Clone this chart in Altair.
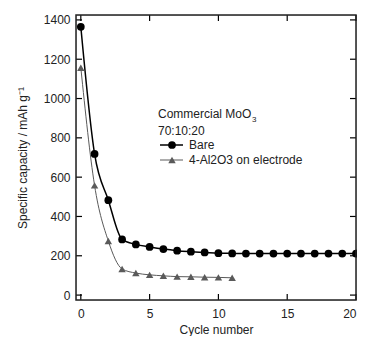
import altair as alt
import pandas as pd

cycles_bare = list(range(21))
bare = [1365, 718, 483, 283, 258, 245, 234, 226, 221, 217, 213, 212, 211, 211, 211, 211, 211, 211, 211, 211, 211]
cycles_al = list(range(12))
al2o3 = [1157, 558, 275, 133, 112, 103, 98, 94, 93, 91, 90, 88]
x_ticks = [0, 5, 10, 15, 20]
y_ticks = [0, 200, 400, 600, 800, 1000, 1200, 1400]

W, H = 280, 285
FONT = "Liberation Sans"
GRAY = "#5a5a5a"

df_b = pd.DataFrame({"cycle": cycles_bare, "cap": bare})
df_a = pd.DataFrame({"cycle": cycles_al, "cap": al2o3})
df_xt = pd.DataFrame({"t": x_ticks})
df_yt = pd.DataFrame({"t": y_ticks})

xs = alt.Scale(domain=[-0.35, 20], nice=False, zero=False)
ys = alt.Scale(domain=[-25, 1425], nice=False, zero=False)

xaxis = alt.Axis(values=x_ticks, tickSize=0, domain=False, grid=False, labelPadding=8, format="d",
                 title="Cycle number", titlePadding=5, labelFontSize=12, titleFontSize=12,
                 labelFont=FONT, titleFont=FONT, titleFontWeight="normal", labelColor="#222", titleColor="#222")
yaxis = alt.Axis(values=y_ticks, tickSize=0, domain=False, grid=False, labelPadding=6, format="d",
                 title="Specific capacity / mAh g\u207b\u00b9", titlePadding=14, labelFontSize=12, titleFontSize=12,
                 labelFont=FONT, titleFont=FONT, titleFontWeight="normal", labelColor="#222", titleColor="#222")

X = alt.X("cycle:Q", scale=xs, axis=xaxis)
Y = alt.Y("cap:Q", scale=ys, axis=yaxis)

line_b = alt.Chart(df_b).mark_line(interpolate="monotone", color="black", strokeWidth=1.5).encode(x=X, y=Y)
pts_b = alt.Chart(df_b).mark_point(shape="circle", filled=True, size=60, color="black", opacity=1).encode(x=X, y=Y)
line_a = alt.Chart(df_a).mark_line(interpolate="monotone", color=GRAY, strokeWidth=1).encode(x=X, y=Y)
pts_a = alt.Chart(df_a).mark_point(shape="triangle-up", filled=True, size=55, color=GRAY, opacity=1).encode(x=X, y=Y)

tx = alt.X("t:Q", scale=xs)
ty = alt.Y("t:Q", scale=ys)
tick_b = alt.Chart(df_xt).mark_rule(color="black", strokeWidth=1.2).encode(x=tx, y=alt.value(H), y2=alt.value(H - 6))
tick_t = alt.Chart(df_xt).mark_rule(color="black", strokeWidth=1.2).encode(x=tx, y=alt.value(0), y2=alt.value(6))
tick_l = alt.Chart(df_yt).mark_rule(color="black", strokeWidth=1.2).encode(y=ty, x=alt.value(0), x2=alt.value(6))
tick_r = alt.Chart(df_yt).mark_rule(color="black", strokeWidth=1.2).encode(y=ty, x=alt.value(W), x2=alt.value(W - 6))

lg_df = pd.DataFrame({"k": [0]})
frame = alt.Chart(lg_df).mark_rect(fill=None, stroke="#222", strokeWidth=1.5).encode(
    x=alt.value(0), x2=alt.value(W), y=alt.value(0), y2=alt.value(H))

txt = dict(font=FONT, fontSize=12, color="#222", align="left")
t1 = alt.Chart(lg_df).mark_text(baseline="alphabetic", **txt).encode(x=alt.value(82), y=alt.value(103), text=alt.value("Commercial MoO"))
t1s = alt.Chart(lg_df).mark_text(baseline="alphabetic", font=FONT, fontSize=8, color="#222", align="left").encode(x=alt.value(176), y=alt.value(107), text=alt.value("3"))
t2 = alt.Chart(lg_df).mark_text(baseline="alphabetic", **txt).encode(x=alt.value(82), y=alt.value(120), text=alt.value("70:10:20"))
lb_line = alt.Chart(lg_df).mark_rule(color="black", strokeWidth=1.5).encode(x=alt.value(84), x2=alt.value(107), y=alt.value(130))
lb_pt = alt.Chart(lg_df).mark_point(shape="circle", filled=True, size=60, color="black", opacity=1).encode(x=alt.value(96), y=alt.value(130))
lb_txt = alt.Chart(lg_df).mark_text(baseline="middle", **txt).encode(x=alt.value(113), y=alt.value(130), text=alt.value("Bare"))
la_line = alt.Chart(lg_df).mark_rule(color=GRAY, strokeWidth=1).encode(x=alt.value(84), x2=alt.value(107), y=alt.value(145))
la_pt = alt.Chart(lg_df).mark_point(shape="triangle-up", filled=True, size=55, color=GRAY, opacity=1).encode(x=alt.value(96), y=alt.value(145))
la_txt = alt.Chart(lg_df).mark_text(baseline="middle", **txt).encode(x=alt.value(113), y=alt.value(145), text=alt.value("4-Al2O3 on electrode"))

chart = alt.layer(
    line_a, line_b, pts_a, pts_b, tick_b, tick_t, tick_l, tick_r, frame,
    t1, t1s, t2, lb_line, lb_pt, lb_txt, la_line, la_pt, la_txt
).properties(
    width=W, height=H,
    autosize=alt.AutoSizeParams(type="none"),
    padding={"left": 68, "top": 7, "right": 1, "bottom": 36},
).configure_view(stroke=None).configure(background="white")

chart.save("out.html", embed_options={"renderer": "svg", "actions": False})
